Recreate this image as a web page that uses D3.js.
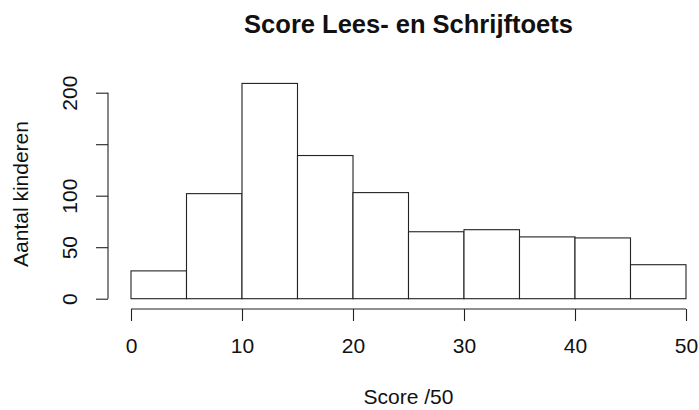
<!DOCTYPE html>
<html>
<head>
<meta charset="utf-8">
<script src="https://cdn.jsdelivr.net/npm/d3@7"></script>
<style>
  html, body { margin: 0; padding: 0; background: #fff; }
  svg { display: block; font-family: "Liberation Sans", Arial, Helvetica, sans-serif; }
</style>
</head>
<body>
<svg id="chart" width="699" height="410"></svg>
<script>
// Histogram of reading/writing test scores (bins of 5 points)
const binStarts = [0, 5, 10, 15, 20, 25, 30, 35, 40, 45];
const binWidth = 5;
const counts = [27, 102, 209, 139, 103, 65, 67, 60, 59, 33];
const xTicks = [0, 10, 20, 30, 40, 50];
const yTicks = [0, 50, 100, 150, 200];
const yTickLabels = ["0", "50", "100", "", "200"];
const titleText = "Score Lees- en Schrijftoets";
const xLabel = "Score /50";
const yLabel = "Aantal kinderen";

const svg = d3.select("#chart");
const ink = "#222";
const fontSize = 21;

const x = d3.scaleLinear().domain([0, 50]).range([131, 686]);
const y = d3.scaleLinear().domain([0, 200]).range([298.7, 92.7]);

// Bars
svg.append("g")
  .selectAll("rect")
  .data(binStarts.map((s, i) => ({ start: s, count: counts[i] })))
  .join("rect")
  .attr("x", d => x(d.start))
  .attr("y", d => y(d.count))
  .attr("width", d => x(d.start + binWidth) - x(d.start))
  .attr("height", d => y(0) - y(d.count))
  .attr("fill", "#fff")
  .attr("stroke", ink)
  .attr("stroke-width", 1.1);

// X axis, offset below the bars
const xAxisY = 309;
const xAxis = d3.axisBottom(x).tickValues(xTicks).tickSize(12).tickPadding(17.5)
  .tickFormat(d3.format("d"));
const gx = svg.append("g").attr("transform", `translate(0,${xAxisY})`).call(xAxis);
gx.select(".domain").attr("d", `M${x(0)},0H${x(50)}`).attr("stroke", ink).attr("stroke-width", 1.1);
gx.selectAll(".tick line").attr("stroke", ink).attr("stroke-width", 1.1);
gx.selectAll(".tick text")
  .attr("font-size", fontSize).attr("fill", "#111")
  .attr("font-family", "Liberation Sans, Arial, sans-serif");

// Y axis, offset left of the bars, rotated labels
const yAxisX = 108;
const yAxis = d3.axisLeft(y).tickValues(yTicks).tickSize(12)
  .tickFormat((d, i) => yTickLabels[i]);
const gy = svg.append("g").attr("transform", `translate(${yAxisX},0)`).call(yAxis);
gy.select(".domain").attr("d", `M0,${y(0)}V${y(200)}`).attr("stroke", ink).attr("stroke-width", 1.1);
gy.selectAll(".tick line").attr("stroke", ink).attr("stroke-width", 1.1);
gy.selectAll(".tick text")
  .attr("font-size", fontSize).attr("fill", "#111")
  .attr("font-family", "Liberation Sans, Arial, sans-serif")
  .attr("x", null).attr("dy", null)
  .attr("text-anchor", "middle")
  .attr("transform", "translate(-31,0) rotate(-90)");

// Title
svg.append("text")
  .attr("x", 408.5).attr("y", 32.5)
  .attr("text-anchor", "middle")
  .attr("font-size", 25.5).attr("font-weight", "bold").attr("fill", "#111")
  .text(titleText);

// Axis titles
svg.append("text")
  .attr("x", x(25)).attr("y", 404)
  .attr("text-anchor", "middle")
  .attr("font-size", fontSize).attr("fill", "#111")
  .text(xLabel);

svg.append("text")
  .attr("transform", `translate(28,194) rotate(-90)`)
  .attr("text-anchor", "middle")
  .attr("font-size", fontSize).attr("fill", "#111")
  .text(yLabel);
</script>
</body>
</html>
